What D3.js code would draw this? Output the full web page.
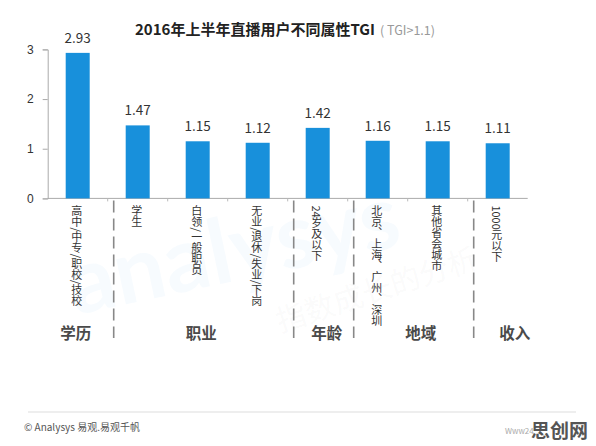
<!DOCTYPE html>
<html>
<head>
<meta charset="utf-8">
<script src="https://cdn.jsdelivr.net/npm/d3@7"></script>
<style>
  html, body { margin: 0; padding: 0; background: #fff; }
  svg { display: block; font-family: "Microsoft YaHei", "Noto Sans CJK SC", "Noto Sans", sans-serif; }
</style>
</head>
<body>
<svg id="chart" width="596" height="446"></svg>
<script>
// 2016年上半年直播用户不同属性TGI
const categories = ['高中/中专/职校/技校', '学生', '白领/一般职员', '无业/退休/失业/下岗',
                    '24岁及以下', '北京、上海、广州、深圳', '其他省会城市', '1000元以下'];
const tgiValues = [2.93, 1.47, 1.15, 1.12, 1.42, 1.16, 1.15, 1.11];
const groupNames = ['学历', '职业', '年龄', '地域', '收入'];
const groupSizes = [1, 3, 1, 2, 1];
const yTicks = [0, 1, 2, 3];

const svg = d3.select('#chart');
const margin = { left: 47.7, right: 68.3, top: 49.4, bottom: 247.6 };
const W = 596, H = 446;

const x = d3.scaleBand()
    .domain(categories)
    .range([margin.left, W - margin.right])
    .paddingInner(0.6)
    .paddingOuter(0.3);

const y = d3.scaleLinear()
    .domain([0, 3])
    .range([H - margin.bottom, margin.top]);

// faint background watermark
const wm = svg.append('g').attr('pointer-events', 'none');
wm.append('text')
    .attr('transform', 'translate(240,280) rotate(-12)')
    .attr('text-anchor', 'middle')
    .attr('font-family', 'Lato, sans-serif')
    .attr('font-size', 90)
    .attr('font-weight', 'bold')
    .attr('fill', '#1890db')
    .attr('fill-opacity', 0.035)
    .text('analysys');
wm.append('text')
    .attr('transform', 'translate(380,300) rotate(-18)')
    .attr('text-anchor', 'middle')
    .attr('font-size', 30)
    .attr('fill', '#888')
    .attr('fill-opacity', 0.05)
    .text('指数成长的分析');

// title
const title = svg.append('text')
    .attr('x', 135)
    .attr('y', 35)
    .attr('fill', '#222');
title.append('tspan')
    .attr('font-size', 15)
    .attr('font-weight', 'bold')
    .text('2016年上半年直播用户不同属性TGI');
title.append('tspan')
    .attr('dx', 5)
    .attr('font-size', 12.5)
    .attr('fill', '#999')
    .text('( TGI>1.1)');

// y axis
const yAxis = svg.append('g')
    .attr('transform', `translate(${margin.left},0)`)
    .call(d3.axisLeft(y).tickValues(yTicks).tickFormat(d3.format('d')).tickSize(5).tickPadding(9));
yAxis.select('.domain').attr('stroke', '#aaa');
yAxis.selectAll('.tick line').attr('stroke', '#aaa');
yAxis.selectAll('.tick text')
    .attr('font-size', 12)
    .attr('fill', '#333');

// x axis line with small ticks at band boundaries
const x0 = x.range()[0], x1 = x.range()[1];
svg.append('line')
    .attr('x1', x0).attr('x2', x1)
    .attr('y1', y(0)).attr('y2', y(0))
    .attr('stroke', '#aaa');
svg.append('g')
    .selectAll('line')
    .data(categories.slice(1))
    .join('line')
    .attr('x1', d => x(d) - x.step() * x.paddingOuter())
    .attr('x2', d => x(d) - x.step() * x.paddingOuter())
    .attr('y1', y(0)).attr('y2', y(0) + 3)
    .attr('stroke', '#bbb');

// bars
svg.append('g')
    .selectAll('rect')
    .data(tgiValues)
    .join('rect')
    .attr('x', (d, i) => x(categories[i]))
    .attr('y', d => y(d))
    .attr('width', x.bandwidth())
    .attr('height', d => y(0) - y(d))
    .attr('fill', '#1890db');

// value labels
svg.append('g')
    .selectAll('text')
    .data(tgiValues)
    .join('text')
    .attr('x', (d, i) => x(categories[i]) + x.bandwidth() / 2)
    .attr('y', d => y(d) - 10)
    .attr('text-anchor', 'middle')
    .attr('font-size', 13.5)
    .attr('fill', '#333')
    .text(d => d3.format('.2f')(d));

// vertical category labels
svg.append('g')
    .selectAll('text')
    .data(categories)
    .join('text')
    .attr('x', d => x(d) + x.bandwidth() / 2 - 1)
    .attr('y', y(0) + 7)
    .attr('font-size', 11)
    .attr('fill', '#333')
    .style('writing-mode', 'vertical-rl')
    .style('text-orientation', 'mixed')
    .text(d => d);

// group separators and group labels
const ends = d3.cumsum(groupSizes);
const starts = ends.map((e, i) => e - groupSizes[i]);
const sepX = ends.slice(0, -1).map(e => x(categories[e]) - x.step() * x.paddingOuter() + 6);

svg.append('g')
    .selectAll('line')
    .data(sepX)
    .join('line')
    .attr('x1', d => d).attr('x2', d => d)
    .attr('y1', y(0) + 2).attr('y2', 338)
    .attr('stroke', '#888')
    .attr('stroke-width', 1.6)
    .attr('stroke-dasharray', '12,6');

// annotation row is slightly wider than the plot band
const xg = d3.scaleLinear()
    .domain([x(categories[0]), x(categories[7])])
    .range([x(categories[0]) - 2.4, x(categories[0]) - 2.4 + (x(categories[7]) - x(categories[0])) * 1.045]);

svg.append('g')
    .selectAll('text')
    .data(groupNames)
    .join('text')
    .attr('x', (d, i) => {
        const c0 = x(categories[starts[i]]) + x.bandwidth() / 2;
        const c1 = x(categories[ends[i] - 1]) + x.bandwidth() / 2;
        return xg((c0 + c1) / 2);
    })
    .attr('y', 339)
    .attr('text-anchor', 'middle')
    .attr('font-size', 15.5)
    .attr('font-weight', 'bold')
    .attr('fill', '#4a4a4a')
    .text(d => d);

// footer
svg.append('line')
    .attr('x1', 28).attr('x2', 576)
    .attr('y1', 412).attr('y2', 412)
    .attr('stroke', '#ddd');
svg.append('text')
    .attr('x', 24)
    .attr('y', 431)
    .attr('font-size', 10)
    .attr('fill', '#555')
    .text('© Analysys 易观.易观千帆');
svg.append('text')
    .attr('x', 505)
    .attr('y', 434)
    .attr('font-size', 8)
    .attr('fill', '#aaa')
    .text('Www24');
svg.append('text')
    .attr('x', 531)
    .attr('y', 438)
    .attr('font-size', 19)
    .attr('font-weight', 'bold')
    .attr('fill', '#555')
    .text('思创网');
</script>
</body>
</html>
